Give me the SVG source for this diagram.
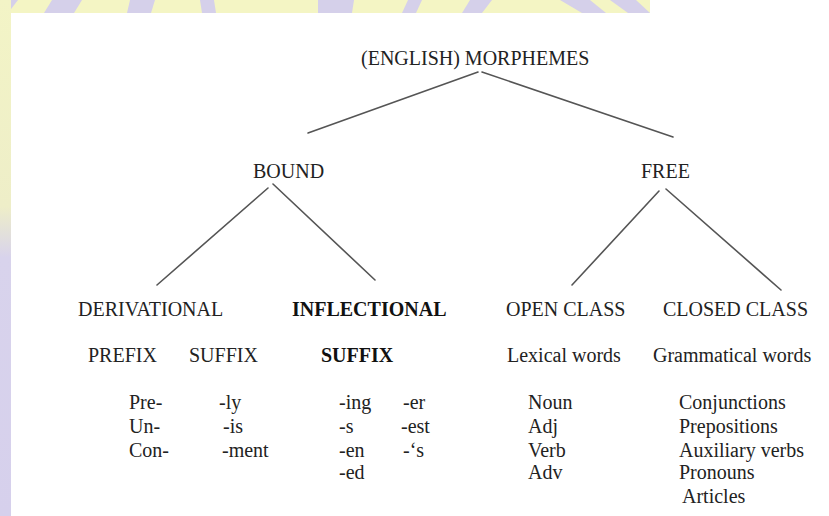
<svg xmlns="http://www.w3.org/2000/svg" width="829" height="516" viewBox="0 0 829 516">
<style>
text{font-family:"Liberation Serif","Times New Roman",serif;font-size:20px;fill:#222}
.b{font-weight:bold;fill:#111}
.c{stroke:#555;stroke-width:1.6;fill:none;stroke-linecap:round}
</style>
<defs>
<linearGradient id="lg" x1="0" y1="0" x2="0" y2="1">
<stop offset="0" stop-color="#f3f4c6"/>
<stop offset="0.4" stop-color="#eeeec8"/>
<stop offset="0.5" stop-color="#d8d3ec"/>
<stop offset="1" stop-color="#d6d0ec"/>
</linearGradient>
</defs>
<rect width="829" height="516" fill="#fff"/>
<g id="background">
<rect x="0" y="0" width="650" height="13" fill="#f4f5c4"/>
<g fill="#d5d0ea">
<path d="M0 0h18l-10 13h-8z"/>
<path d="M52 0h30l-8 13h-30z"/>
<path d="M130 0h25l-4 13h-24z"/>
<path d="M200 0h14l2 13h-14z"/>
<path d="M318 0h36l-2 13h-34z"/>
<path d="M408 0h14l-6 13h-14z"/>
<path d="M470 0h22l-10 13h-20z"/>
<path d="M560 0h30l16 13h-24z"/>
<path d="M610 0h26l14 13h-22z"/>
</g>
<rect x="0" y="0" width="11" height="516" fill="url(#lg)"/>
</g>
<g id="connectors">
<line class="c" x1="478" y1="72" x2="308" y2="133"/>
<line class="c" x1="482" y1="72" x2="673" y2="137"/>
<line class="c" x1="268" y1="188" x2="157" y2="285"/>
<line class="c" x1="273" y1="184" x2="375" y2="280"/>
<line class="c" x1="659" y1="191" x2="572" y2="285"/>
<line class="c" x1="666" y1="189" x2="781" y2="290"/>
</g>
<g id="root"><text x="361" y="65">(ENGLISH) MORPHEMES</text></g>
<g id="bound"><text x="253" y="178">BOUND</text></g>
<g id="free"><text x="641" y="178">FREE</text></g>
<g id="derivational">
<text x="78" y="316">DERIVATIONAL</text>
<text x="88" y="362">PREFIX</text>
<text x="189" y="362">SUFFIX</text>
<text x="129" y="409">Pre-</text>
<text x="129" y="433">Un-</text>
<text x="129" y="457">Con-</text>
<text x="219" y="409">-ly</text>
<text x="223" y="433">-is</text>
<text x="222" y="457">-ment</text>
</g>
<g id="inflectional">
<text class="b" x="292" y="316">INFLECTIONAL</text>
<text class="b" x="321" y="362">SUFFIX</text>
<text x="339" y="409">-ing</text>
<text x="339" y="433">-s</text>
<text x="339" y="457">-en</text>
<text x="339" y="479">-ed</text>
<text x="403" y="409">-er</text>
<text x="401" y="433">-est</text>
<text x="403" y="457">-‘s</text>
</g>
<g id="open-class">
<text x="506" y="316">OPEN CLASS</text>
<text x="507" y="362">Lexical words</text>
<text x="528" y="409">Noun</text>
<text x="528" y="433">Adj</text>
<text x="528" y="457">Verb</text>
<text x="528" y="479">Adv</text>
</g>
<g id="closed-class">
<text x="663" y="316">CLOSED CLASS</text>
<text x="653" y="362">Grammatical words</text>
<text x="679" y="409">Conjunctions</text>
<text x="679" y="433">Prepositions</text>
<text x="679" y="457">Auxiliary verbs</text>
<text x="679" y="479">Pronouns</text>
<text x="682" y="503">Articles</text>
</g>
</svg>
